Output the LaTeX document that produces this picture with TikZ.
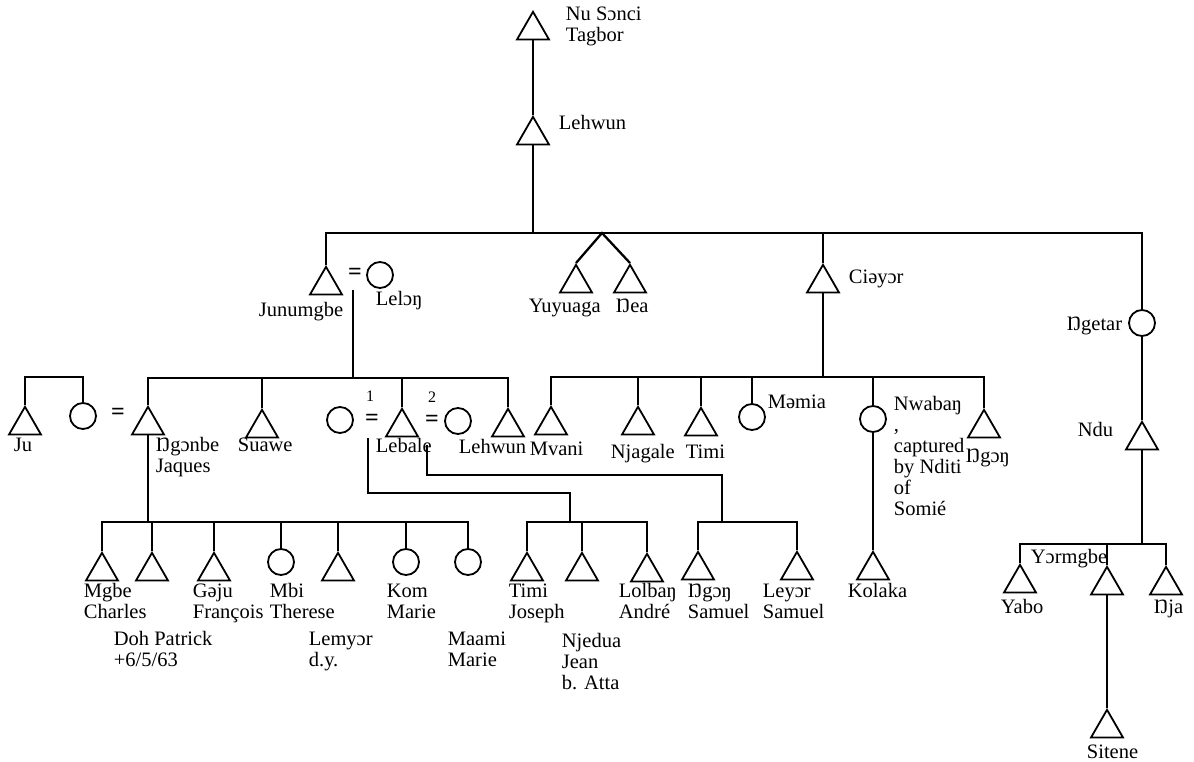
\documentclass[tikz,border=0pt]{standalone}
\usepackage{fontspec}
\setmainfont{Liberation Serif}
\usetikzlibrary{shapes.geometric}
\tikzset{
  tri/.style={draw, regular polygon, regular polygon sides=3, minimum size=37pt, inner sep=0pt, anchor=corner 1},
  per/.style={draw, circle, minimum size=26pt, inner sep=0pt},
  lab/.style={inner sep=0pt, anchor=base west, align=left},
  labr/.style={inner sep=0pt, anchor=base east, align=right},
  eqs/.style={inner sep=0pt, text height=11pt, text depth=0pt, font=\fontsize{24}{24}\selectfont\bfseries},
  num/.style={inner sep=0pt, text height=11pt, text depth=0pt, font=\fontsize{16}{17}\selectfont},
}
\begin{document}
\begin{tikzpicture}[x=1pt,y=-1pt, line width=1.8pt, font=\fontsize{20.5}{21}\selectfont]
\path[use as bounding box, fill=white] (0,0) rectangle (1194,762);

% top generations (multi-line labels are placed by the baseline of their last line)
\node[tri] (nu) at (533,10) {};
\node[tri] (leh) at (533,115) {};
\node[lab] (lnu) at (565,42) {Nu Sɔnci\\Tagbor};
\node[lab] (lleh) at (558,130) {Lehwun};
\coordinate (tb) at (533,233);
\draw (nu.south) -- (leh.corner 1);
\draw (leh.south) -- (tb);

% second generation
\node[tri] (jun) at (326,265) {};
\node[eqs] (eqj) at (355,274) {=};
\node[per] (lelon) at (380,275) {};
\node[lab] (ljun) at (258,316) {Junumgbe};
\node[lab] (llelon) at (375,305) {Lelɔŋ};
\node[tri] (yuy) at (576,263) {};
\node[tri] (nea) at (630,263) {};
\coordinate (vv) at (602,233);
\node[lab] (lyuy) at (528,312) {Yuyuaga};
\node[lab] (lnea) at (615,312) {Ŋea};
\node[tri] (cia) at (823,263) {};
\node[lab] (lcia) at (848,283) {Ciəyɔr};
\node[per] (nget) at (1142,323) {};
\node[labr] (lnget) at (1123,330) {Ŋgetar};

\draw (jun.corner 1) |- (tb);
\draw (cia.corner 1) |- (tb);
\draw (nget.north) |- (tb);
\draw[line width=2.3pt] (yuy.corner 1) -- (vv) -- (nea.corner 1);

% Junumgbe's children
\coordinate (jm) at (353,290);
\coordinate (jb) at (353,378);
\draw (jm) -- (jb);
\node[tri] (ju) at (25,405) {};
\node[per] (juc) at (83,416) {};
\coordinate (jub) at (54,377);
\node[eqs] (eqju) at (118,414) {=};
\node[tri] (ngon) at (148,405) {};
\node[tri] (suawe) at (262,408) {};
\node[per] (w1) at (340,420) {};
\node[num] (n1) at (370,396) {1};
\node[eqs] (eq1) at (372,420) {=};
\node[tri] (leb) at (402,407) {};
\node[num] (n2) at (432,397) {2};
\node[eqs] (eq2) at (432,421) {=};
\node[per] (w2) at (458,421) {};
\node[tri] (lehw) at (508,407) {};
\draw (ju.corner 1) |- (jub) -| (juc.north);
\draw (ngon.corner 1) |- (jb);
\draw (suawe.corner 1) |- (jb);
\draw (leb.corner 1) |- (jb);
\draw (lehw.corner 1) |- (jb);
\node[lab] (lju) at (13,451) {Ju};
\node[lab] (lngon) at (155,472) {Ŋgɔnbe\\Jaques};
\node[lab] (lsua) at (237,451) {Suawe};
\node[lab] (lleb) at (375,452) {Lebale};
\node[lab] (llehw) at (458,453) {Lehwun};

% Ciəyɔr's children
\coordinate (cb) at (823,377);
\draw (cia.south) -- (cb);
\node[tri] (mvani) at (551,405) {};
\node[tri] (njag) at (638,405) {};
\node[tri] (timi) at (701,406) {};
\node[per] (memia) at (752,417) {};
\node[per] (nwab) at (873,419) {};
\node[tri] (ngong) at (984,408) {};
\draw (mvani.corner 1) |- (cb);
\draw (njag.corner 1) |- (cb);
\draw (timi.corner 1) |- (cb);
\draw (memia.north) |- (cb);
\draw (nwab.north) |- (cb);
\draw (ngong.corner 1) |- (cb);
\node[lab] (lmv) at (529,455) {Mvani};
\node[lab] (lnjag) at (610,458) {Njagale};
\node[lab] (ltimi) at (685,458) {Timi};
\node[lab] (lmem) at (767,408) {Məmia};
\node[lab] (lnwab) at (893,515) {Nwabaŋ\\,\\captured\\by Nditi\\of\\Somié};
\node[lab] (lngong) at (965,462) {Ŋgɔŋ};
\node[tri] (kol) at (873,550) {};
\draw (nwab.south) -- (kol.corner 1);
\node[lab] (lkol) at (847,597) {Kolaka};

% Ngetar line
\node[tri] (ndu) at (1142,420) {};
\node[lab] (lndu) at (1077,436) {Ndu};
\draw (nget.south) -- (ndu.corner 1);
\coordinate (nb) at (1142,544);
\draw (ndu.south) -- (nb);
\node[tri] (yabo) at (1020,563) {};
\node[tri] (yor) at (1107,565) {};
\node[tri] (nja) at (1166,565) {};
\draw (yabo.corner 1) |- (nb);
\draw (yor.corner 1) |- (nb);
\draw (nja.corner 1) |- (nb);
\node[lab] (lyor) at (1030,563) {Yɔrmgbe};
\node[lab] (lyabo) at (1000,613) {Yabo};
\node[lab] (lnja) at (1153,613) {Ŋja};
\node[tri] (sit) at (1107,708) {};
\draw (yor.south) -- (sit.corner 1);
\node[lab] (lsit) at (1086,758) {Sitene};

% Ngɔnbe's children
\coordinate (ngb) at (148,522);
\draw (ngon.south) -- (ngb);
\node[tri] (c1) at (102,551) {};
\node[tri] (c2) at (152,551) {};
\node[tri] (c3) at (214,551) {};
\node[per] (mbi) at (281,562) {};
\node[tri] (c5) at (338,551) {};
\node[per] (kom) at (406,562) {};
\node[per] (maami) at (468,562) {};
\draw (c1.corner 1) |- (ngb);
\draw (c2.corner 1) |- (ngb);
\draw (c3.corner 1) |- (ngb);
\draw (mbi.north) |- (ngb);
\draw (c5.corner 1) |- (ngb);
\draw (kom.north) |- (ngb);
\draw (maami.north) |- (ngb);
\node[lab] (lc1) at (83,618) {Mgbe\\Charles};
\node[lab] (lc3) at (192,618) {Gəju\\François};
\node[lab] (lmbi) at (269,618) {Mbi\\Therese};
\node[lab] (lkom) at (386,618) {Kom\\Marie};
\node[lab] (lc2) at (113,666) {Doh Patrick\\+6/5/63};
\node[lab] (lc5) at (308,666) {Lemyɔr\\d.y.};
\node[lab] (lmaa) at (447,666) {Maami\\Marie};

% Lebale's children, wife 1
\coordinate (l1) at (368,438);
\coordinate (w1k) at (570,493);
\coordinate (w1b) at (570,522);
\draw (l1) |- (w1k) -- (w1b);
\node[tri] (tj) at (527,551) {};
\node[tri] (nje) at (582,551) {};
\node[tri] (lol) at (647,552) {};
\draw (tj.corner 1) |- (w1b);
\draw (nje.corner 1) |- (w1b);
\draw (lol.corner 1) |- (w1b);
\node[lab] (ltj) at (508,618) {Timi\\Joseph};
\node[lab] (lnje) at (561,689) {Njedua\\Jean\\b. Atta};
\node[lab] (llol) at (618,618) {Lolbaŋ\\André};

% Lebale's children, wife 2
\coordinate (l2) at (427,445);
\coordinate (w2k) at (722,475);
\coordinate (w2b) at (722,522);
\draw (l2) |- (w2k) -- (w2b);
\node[tri] (ngs) at (698,550) {};
\node[tri] (ley) at (797,550) {};
\draw (ngs.corner 1) |- (w2b);
\draw (ley.corner 1) |- (w2b);
\node[lab] (lngs) at (687,618) {Ŋgɔŋ\\Samuel};
\node[lab] (lley) at (762,618) {Leyɔr\\Samuel};
\end{tikzpicture}
\end{document}
